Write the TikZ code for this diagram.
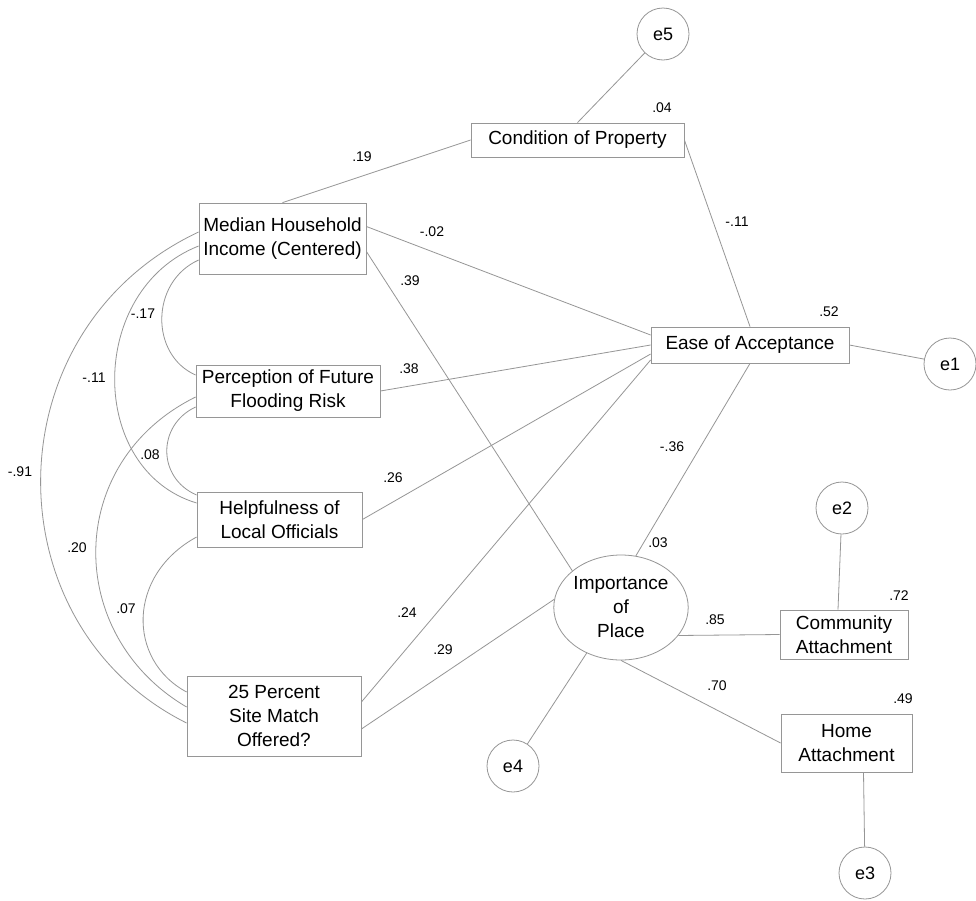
\documentclass[tikz,border=0pt]{standalone}
\usepackage{fontspec}
\setmainfont{Liberation Sans}
\usetikzlibrary{shapes.geometric,calc}
\definecolor{ln}{RGB}{150,150,150}
\begin{document}
\begin{tikzpicture}[x=1pt,y=-1pt,
  box/.style={draw=ln, line width=0.8pt, rectangle, inner sep=0pt, align=center, font=\fontsize{19}{24}\selectfont},
  err/.style={draw=ln, line width=0.8pt, circle, minimum size=52pt, inner sep=0pt, font=\fontsize{18}{22}\selectfont},
  lat/.style={draw=ln, line width=0.8pt, ellipse, minimum width=130pt, minimum height=105pt, inner sep=0pt, align=center, font=\fontsize{19}{24}\selectfont},
  conn/.style={draw=ln, line width=0.8pt},
  coef/.style={inner sep=0pt, font=\fontsize{14}{16}\selectfont}]
\fill[white] (0,0) rectangle (976,900);
\useasboundingbox (0,0) rectangle (976,900);

% observed and latent variables
\node[box, minimum width=213pt, minimum height=34pt] (cond) at (577.5,140) {Condition of Property};
\node[box, minimum width=167pt, minimum height=71pt] (med) at (282.5,238.5) {Median Household\\Income (Centered)};
\node[box, minimum width=184pt, minimum height=52pt] (per) at (288,391) {Perception of Future\\Flooding Risk};
\node[box, minimum width=165pt, minimum height=55pt] (help) at (279.5,519.5) {Helpfulness of\\Local Officials};
\node[box, minimum width=174pt, minimum height=80pt] (pct) at (274,716) {25 Percent\\Site Match\\Offered?};
\node[box, minimum width=198pt, minimum height=36pt] (ease) at (750,345) {Ease of Acceptance};
\node[box, minimum width=128pt, minimum height=49pt] (comm) at (844,634.5) {Community\\Attachment};
\node[box, minimum width=131pt, minimum height=58pt] (home) at (846.5,743) {Home\\Attachment};
\node[lat] (imp) at (621,607.5) {Importance\\of\\Place};

% error terms
\node[err] (e1) at (950,364) {e1};
\node[err] (e2) at (842,508) {e2};
\node[err] (e3) at (865,873) {e3};
\node[err] (e4) at (513,766) {e4};
\node[err] (e5) at (663,34) {e5};

% paths
\draw[conn] (e5) -- (cond.north);
\draw[conn] (med.north) -- (cond.west);
\draw[conn] (cond.east) -- (ease.north);
\draw[conn] ($(med.east)+(0,-12)$) -- ($(ease.west)+(0,-10)$);
\draw[conn] ($(med.east)+(0,13)$) -- (imp.143);
\draw[conn] (per.east) -- (ease.west);
\draw[conn] (help.east) -- ($(ease.west)+(0,9)$);
\draw[conn] ($(pct.east)+(0,-14)$) -- ($(ease.west)+(0,15)$);
\draw[conn] ($(pct.east)+(0,13)$) -- (imp.173);
\draw[conn] (ease.south) -- (imp.74);
\draw[conn] (ease.east) -- (e1);
\draw[conn] (imp.334) -- (comm.west);
\draw[conn] (imp.south) -- (home.west);
\draw[conn] (imp.233) -- (e4);
\draw[conn] (e2) -- ($(comm.north)+(-6,0)$);
\draw[conn] ($(home.south)+(17,0)$) -- (e3);

% covariances
\draw[conn] ($(med.west)+(0,21.5)$) .. controls (150,282) and (150,355) .. ($(per.west)+(0,-16)$);
\draw[conn] ($(med.west)+(0,7.5)$) .. controls (87,290) and (87,470) .. ($(help.west)+(0,-16.5)$);
\draw[conn] ($(med.west)+(0,-6.5)$) .. controls (-10,330) and (-10,625) .. ($(pct.west)+(0,7)$);
\draw[conn] ($(per.west)+(0,16)$) .. controls (157,425) and (157,478) .. ($(help.west)+(0,-24.5)$);
\draw[conn] ($(per.west)+(0,6)$) .. controls (64,462) and (64,635) .. ($(pct.west)+(0,-9)$);
\draw[conn] ($(help.west)+(0,17.5)$) .. controls (127,575) and (127,660) .. ($(pct.west)+(0,-24)$);

% coefficients
\node[coef] (l1) at (662,108) {.04};
\node[coef] (l2) at (362,157) {.19};
\node[coef] (l3) at (432,232) {-.02};
\node[coef] (l4) at (410,281) {.39};
\node[coef] (l5) at (737,222) {-.11};
\node[coef] (l6) at (829,312) {.52};
\node[coef] (l7) at (409,369) {.38};
\node[coef] (l8) at (393,478) {.26};
\node[coef] (l9) at (672,447) {-.36};
\node[coef] (l10) at (407,613) {.24};
\node[coef] (l11) at (443,650) {.29};
\node[coef] (l12) at (658,543) {.03};
\node[coef] (l13) at (715,620) {.85};
\node[coef] (l14) at (899,596) {.72};
\node[coef] (l15) at (717,686) {.70};
\node[coef] (l16) at (903,699) {.49};
\node[coef] (l17) at (143,314) {-.17};
\node[coef] (l18) at (94,378) {-.11};
\node[coef] (l19) at (20,472) {-.91};
\node[coef] (l20) at (150,455) {.08};
\node[coef] (l21) at (77,548) {.20};
\node[coef] (l22) at (126,609) {.07};
\end{tikzpicture}
\end{document}
